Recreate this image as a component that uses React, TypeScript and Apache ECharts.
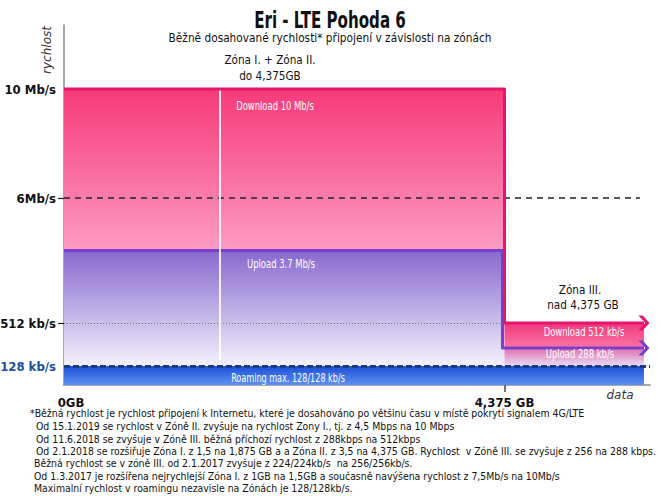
import React, { useEffect, useRef } from "react";
import * as echarts from "echarts";

// ---- data ----
const speedTickLabels = ["128 kb/s", "512 kb/s", "6Mb/s", "10 Mb/s"];
const speedTickValues = [128, 512, 6000, 10000]; // kb/s
const speedTickLevels = [19, 62, 187, 296]; // schematic (non-linear) axis levels
const dataTickValues = [0, 4.375]; // GB
const dataTickLabels = ["0GB", "4,375 GB"];
const zoneLimitGB = 4.375;
const zoneEndGB = 5.76;
const zoneDividerGB = 1.55;
const downloadSpeeds = [10000, 512]; // kb/s: Zóna I.+II., Zóna III.
const uploadSpeeds = [3700, 288]; // kb/s
const roamingSpeed = 128; // kb/s
const dividerBottomSpeed = 180; // kb/s
const footnotes = [
  "*Běžná rychlost je rychlost připojení k Internetu, které je dosahováno po většinu času v místě pokrytí signalem 4G/LTE",
  "Od 15.1.2019 se rychlost v Zóně II. zvyšuje na rychlost Zony I., tj. z 4,5 Mbps na 10 Mbps",
  "Od 11.6.2018 se zvyšuje v Zóně III. běžná příchozí rychlost z 288kbps na 512kbps",
  "Od 2.1.2018 se rozšiřuje Zóna I. z 1,5 na 1,875 GB a a Zóna II. z 3,5 na 4,375 GB. Rychlost  v Zóně III. se zvyšuje z 256 na 288 kbps.",
  "Běžná rychlost se v zóně III. od 2.1.2017 zvyšuje z 224/224kb/s  na 256/256kb/s.",
  "Od 1.3.2017 je rozšířena nejrychlejší Zóna I. z 1GB na 1,5GB a současně navýšena rychlost z 7,5Mb/s na 10Mb/s",
  "Maximalní rychlost v roamingu nezavisle na Zónách je 128/128kb/s.",
];

// piecewise-linear schematic speed scale defined by the tick anchors
const lvl = (s: number) => {
  const xs = [0, ...speedTickValues];
  const ys = [0, ...speedTickLevels];
  for (let i = 1; i < xs.length; i++) {
    if (s <= xs[i]) return ys[i - 1] + ((s - xs[i - 1]) / (xs[i] - xs[i - 1])) * (ys[i] - ys[i - 1]);
  }
  return ys[ys.length - 1];
};

const COND = "'DejaVu Sans Condensed', sans-serif";
const chevron = "path://M0,0 L5,0 L13,8 L5,16 L0,16 L8,8 Z";

export default function App() {
  const ref = useRef<HTMLDivElement>(null);
  useEffect(() => {
    document.body.style.margin = "0";
    const chart = echarts.init(ref.current!, null, { renderer: "svg" });
    const grad = (a: string, b: string) =>
      new echarts.graphic.LinearGradient(0, 0, 0, 1, [
        { offset: 0, color: a },
        { offset: 1, color: b },
      ]);
    const fills = [
      grad("#f63a79", "#fd9cc4"),
      grad("#8769cf", "#f4f1fc"),
      grad("#f0387a", "#fb74a6"),
      grad("#e06fae", "#e7dcf6"),
      grad("#1b4fd6", "#5f90f2"),
    ];
    const regions = [
      [0, zoneLimitGB, uploadSpeeds[0], downloadSpeeds[0], 0],
      [0, zoneLimitGB, roamingSpeed, uploadSpeeds[0], 1],
      [zoneLimitGB, zoneEndGB, uploadSpeeds[1], downloadSpeeds[1], 2],
      [zoneLimitGB, zoneEndGB, roamingSpeed, uploadSpeeds[1], 3],
      [0, zoneEndGB, 0, roamingSpeed, 4],
    ].map((r) => [r[0], r[1], lvl(r[2]), lvl(r[3]), r[4]]);

    const downloadPath = [
      [0, lvl(downloadSpeeds[0])],
      [zoneLimitGB, lvl(downloadSpeeds[0])],
      [zoneLimitGB, lvl(downloadSpeeds[1])],
      [zoneEndGB, lvl(downloadSpeeds[1])],
    ];
    const uploadPath = [
      [0, lvl(uploadSpeeds[0])],
      [zoneLimitGB - 0.02, lvl(uploadSpeeds[0])],
      [zoneLimitGB - 0.02, lvl(uploadSpeeds[1])],
      [zoneEndGB, lvl(uploadSpeeds[1])],
    ];

    const txt = (
      text: string,
      x: number,
      y: number,
      o: { size?: number; weight?: string; color?: string; font?: string; align?: string; sx?: number; italic?: boolean; rot?: number } = {}
    ) => ({
      type: "text",
      x,
      y,
      scaleX: o.sx ?? 1,
      rotation: o.rot ?? 0,
      z: 100,
      style: {
        text,
        fill: o.color ?? "#111",
        fontSize: o.size ?? 12,
        fontWeight: o.weight ?? "normal",
        fontStyle: o.italic ? "italic" : "normal",
        fontFamily: o.font ?? COND,
        align: o.align ?? "center",
        textAlign: o.align ?? "center",
        verticalAlign: "middle",
        textVerticalAlign: "middle",
      },
    });

    const graphic: any[] = [
      txt("Eri - LTE Pohoda 6", 330, 20, { size: 23, weight: "bold", sx: 0.73 }),
      txt("Běžně dosahované rychlosti* připojení v závislosti na zónách", 330, 38, { size: 12, sx: 0.98 }),
      txt("Zóna I. + Zóna II.", 270, 60, { size: 12, sx: 0.97 }),
      txt("do 4,375GB", 270, 76, { size: 12, sx: 0.97 }),
      txt("Zóna III.", 580, 290, { size: 12, sx: 0.97 }),
      txt("nad 4,375 GB", 583, 305, { size: 12, sx: 0.97 }),
      txt("Download 10 Mb/s", 275, 106, { size: 12, color: "#fff", sx: 0.78 }),
      txt("Upload 3.7 Mb/s", 281, 264, { size: 12, color: "#fff", sx: 0.78 }),
      txt("Download 512 kb/s", 584, 332, { size: 12, color: "#fff", sx: 0.78 }),
      txt("Upload 288 kb/s", 580, 354, { size: 12, color: "#fff", sx: 0.78 }),
      txt("Roaming max. 128/128 kb/s", 288, 377, { size: 12, color: "#fff", sx: 0.75 }),
      txt("rychlost", 47, 50, { size: 12, italic: true, color: "#333", rot: Math.PI / 2, font: "'DejaVu Sans', sans-serif", sx: 1 }),
      txt("data", 620, 395, { size: 12, italic: true, color: "#333", font: "'DejaVu Sans', sans-serif" }),
    ];
    const footX = [30, 36, 36, 36, 34, 34, 34];
    const footY = [414, 427, 440, 452, 464, 477, 489];
    footnotes.forEach((f, i) => {
      graphic.push(txt(f, footX[i], footY[i], { size: 10, align: "left", sx: 1.04, color: "#111" }));
    });

    const option: any = {
      animation: false,
      grid: { left: 64, right: 11, top: 25, bottom: 111, outerBoundsMode: "none", containLabel: false },
      xAxis: {
        type: "value",
        min: 0,
        max: 5.82,
        splitLine: { show: false },
        axisLine: { show: true, lineStyle: { color: "#8a8a8a", width: 1.5 } },
        axisTick: { show: true, customValues: [zoneLimitGB], length: 7, lineStyle: { color: "#444", width: 1.5 } },
        axisLabel: {
          customValues: dataTickValues,
          margin: 11,
          formatter: (v: number) => {
            const i = dataTickValues.findIndex((d) => Math.abs(d - v) < 1e-6);
            return i === 0 ? `{a|${dataTickLabels[i]}}` : `{b|${dataTickLabels[i]}}`;
          },
          rich: {
            a: { fontFamily: COND, fontWeight: "bold", fontSize: 13, color: "#111", padding: [0, 0, 0, 14] },
            b: { fontFamily: COND, fontWeight: "bold", fontSize: 13, color: "#111" },
          },
        },
      },
      yAxis: {
        type: "value",
        min: 0,
        max: 360,
        splitLine: { show: false },
        axisLine: { show: true, lineStyle: { color: "#8a8a8a", width: 1.5 } },
        axisTick: { show: true, customValues: [speedTickLevels[1], speedTickLevels[2]], length: 6, lineStyle: { color: "#222", width: 1.2 } },
        axisLabel: {
          customValues: speedTickLevels,
          margin: 8,
          formatter: (v: number) => {
            const i = speedTickLevels.findIndex((d) => Math.abs(d - v) < 1e-6);
            return i === 0 ? `{b|${speedTickLabels[i]}}` : `{a|${speedTickLabels[i]}}`;
          },
          rich: {
            a: { fontFamily: COND, fontWeight: "bold", fontSize: 13, color: "#111" },
            b: { fontFamily: COND, fontWeight: "bold", fontSize: 13, color: "#1d4f9e" },
          },
        },
      },
      graphic,
      series: [
        {
          type: "custom",
          name: "zones",
          z: 1,
          encode: { x: [0, 1], y: [2, 3] },
          data: regions,
          renderItem: (params: any, api: any) => {
            const p0 = api.coord([api.value(0), api.value(3)]);
            const p1 = api.coord([api.value(1), api.value(2)]);
            return {
              type: "rect",
              shape: { x: p0[0], y: p0[1], width: p1[0] - p0[0], height: p1[1] - p0[1] },
              style: { fill: fills[api.value(4)] },
            };
          },
        },
        {
          type: "line",
          name: "guides",
          z: 2,
          data: [],
          markLine: {
            silent: true,
            symbol: "none",
            label: { show: false },
            data: [
              [
                { coord: [0, lvl(6000)], lineStyle: { color: "#222", type: [6, 5], width: 1.5 } },
                { coord: [5.72, lvl(6000)] },
              ],
              [
                { coord: [0, lvl(512)], lineStyle: { color: "#777", type: [1, 2], width: 1 } },
                { coord: [zoneLimitGB, lvl(512)] },
              ],
              [
                { coord: [zoneDividerGB, lvl(downloadSpeeds[0])], lineStyle: { color: "#ffffff", type: "solid", width: 2, opacity: 0.85 } },
                { coord: [zoneDividerGB, lvl(dividerBottomSpeed)] },
              ],
              [
                { coord: [0, lvl(roamingSpeed)], lineStyle: { color: "#1c3c82", type: [6, 3], width: 3 } },
                { coord: [5.82, lvl(roamingSpeed)] },
              ],
            ],
          },
        },
        {
          type: "line",
          name: "Upload",
          z: 4,
          data: uploadPath,
          symbol: (v: any, p: any) => (p.dataIndex === uploadPath.length - 1 ? chevron : "none"),
          symbolSize: [11, 15],
          itemStyle: { color: "#7a3fca" },
          lineStyle: { color: "#7a3fca", width: 3, join: "round" },
          clip: false,
        },
        {
          type: "line",
          name: "Download",
          z: 5,
          data: downloadPath,
          symbol: (v: any, p: any) => (p.dataIndex === downloadPath.length - 1 ? chevron : "none"),
          symbolSize: [11, 15],
          itemStyle: { color: "#e5156e" },
          lineStyle: { color: "#e5156e", width: 3, join: "round" },
          clip: false,
        },
      ],
    };
    chart.setOption(option);
    return () => chart.dispose();
  }, []);
  return <div ref={ref} style={{ width: 661, height: 496 }} />;
}
